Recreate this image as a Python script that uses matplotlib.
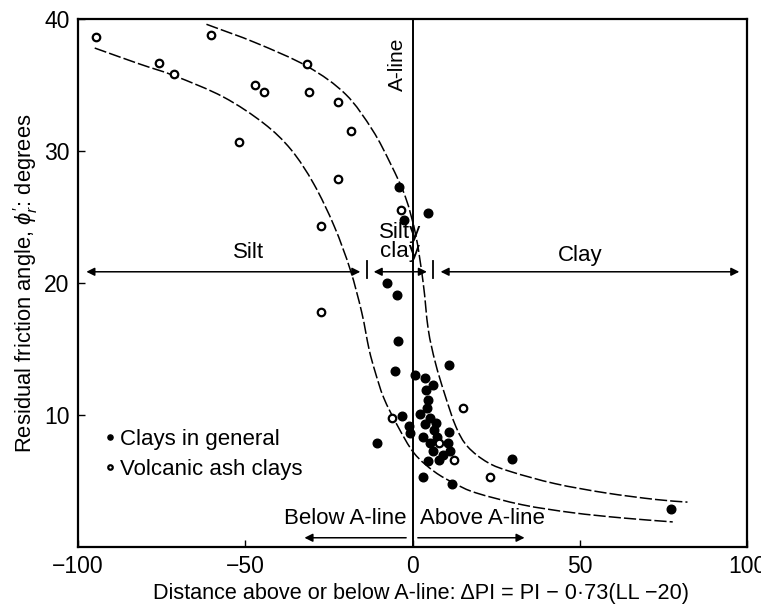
import matplotlib
matplotlib.use("Agg")
import matplotlib.pyplot as plt
from matplotlib.path import Path
from matplotlib.patches import PathPatch
import numpy as np

plt.rcParams['font.family'] = ['Liberation Sans', 'DejaVu Sans']
plt.rcParams['mathtext.fontset'] = 'custom'
plt.rcParams['mathtext.rm'] = 'Liberation Sans'
plt.rcParams['mathtext.it'] = 'Liberation Sans:italic'

# Clays in general: distance from A-line (ΔPI) and residual friction angle (deg)
clay_dpi = [-4.1, 4.5, -2.4, -7.5, -4.5, -4.2, 10.9, -5.3, 0.8, 3.7, 6.1, 3.9,
            4.5, 4.2, 2.1, -3.0, 5.3, 7.1, -1.1, 3.8, 6.4, -0.6, 10.9, 3.2,
            7.2, 5.3, 10.6, -10.5, 6.0, 11.3, 9.0, 4.6, 7.8, 3.2, 11.7, 29.7, 77.4]
clay_phi = [27.3, 25.3, 24.8, 20.0, 19.1, 15.6, 13.8, 13.3, 13.0, 12.8, 12.3, 11.9,
            11.1, 10.5, 10.1, 9.9, 9.8, 9.4, 9.2, 9.3, 8.9, 8.6, 8.7, 8.3,
            8.3, 7.9, 7.9, 7.9, 7.3, 7.3, 7.0, 6.5, 6.6, 5.3, 4.8, 6.7, 2.9]

# Volcanic ash clays
ash_dpi = [-94.5, -75.8, -71.2, -60.1, -47.2, -44.5, -51.9, -31.4, -31.0, -22.3,
           -18.5, -22.4, -27.5, -27.3, -3.5, 15.2, 23.1, 12.3, 8.0, -6.2]
ash_phi = [38.6, 36.7, 35.8, 38.8, 35.0, 34.5, 30.7, 36.6, 34.5, 33.7,
           31.5, 27.9, 24.3, 17.8, 25.5, 10.5, 5.3, 6.6, 7.9, 9.8]

# Upper and lower bounding curves of the data band
upper_dpi = [-61.6, -46.9, -31.4, -20.0, -12.0, -6.5, -2.1, 1.0, 3.2, 4.7,
             6.8, 9.6, 13.0, 16.5, 22.5, 29.5, 42.6, 57.7, 72.7, 82.2]
upper_phi = [39.6, 38.2, 36.4, 34.3, 31.6, 29.0, 26.5, 23.6, 20.0, 16.5,
             14.0, 11.6, 9.1, 7.6, 6.4, 5.7, 4.8, 4.1, 3.6, 3.4]
lower_dpi = [-95.0, -81.7, -71.2, -56.6, -44.5, -36.3, -29.5, -23.4, -18.6,
             -15.2, -13.0, -11.2, -8.6, -4.5, 0.5, 6.6, 12.7, 19.0, 32.8, 47.8,
             62.8, 77.8]
lower_phi = [37.8, 36.6, 35.7, 34.1, 32.1, 30.1, 27.5, 24.3, 21.0,
             17.8, 15.0, 13.3, 11.3, 9.2, 7.1, 5.7, 4.8, 4.1, 3.2, 2.6,
             2.2, 1.9]

# Soil classes along ΔPI
class_names = ['Silt', 'Silty\nclay', 'Clay']
class_spans = [(-97.5, -15.6), (-11.6, 4.3), (8.4, 97.7)]
class_bounds = [-13.6, 6.1]
class_level = 20.85

x_ticks = [-100, -50, 0, 50, 100]
y_ticks = [10, 20, 30, 40]


def smooth_curve(ax, xs, ys, **kw):
    """Catmull-Rom curve through the points, drawn as cubic Bezier segments."""
    sx, sy = 200.0, 40.0
    p = np.column_stack([np.asarray(xs) / sx, np.asarray(ys) / sy])
    ext = np.vstack([2 * p[0] - p[1], p, 2 * p[-1] - p[-2]])
    verts = [p[0]]
    codes = [Path.MOVETO]
    for i in range(1, len(ext) - 2):
        p0, p1, p2, p3 = ext[i - 1], ext[i], ext[i + 1], ext[i + 2]
        c1 = p1 + (p2 - p0) / 6.0
        c2 = p2 - (p3 - p1) / 6.0
        verts += [c1, c2, p2]
        codes += [Path.CURVE4] * 3
    verts = np.array(verts) * [sx, sy]
    ax.add_patch(PathPatch(Path(verts, codes), fill=False, **kw))


fig = plt.figure(figsize=(7.61, 6.06), dpi=100)
ax = fig.add_axes([78 / 761, 59 / 606, 669 / 761, 528 / 606])
ax.set_xlim(-100, 100)
ax.set_ylim(0, 40)

dash = (0, (8, 2))
smooth_curve(ax, upper_dpi, upper_phi, edgecolor='black', lw=1.1, linestyle=dash)
smooth_curve(ax, lower_dpi, lower_phi, edgecolor='black', lw=1.1, linestyle=dash)

ax.axvline(0, color='black', lw=1.4)
ax.text(-4.6, 36.6, 'A-line', rotation=90, ha='center', va='center', fontsize=15)

ax.plot(clay_dpi, clay_phi, 'o', color='black', ms=6.2, mec='black',
        label='Clays in general', zorder=5)
ax.plot(ash_dpi, ash_phi, 'o', mfc='white', mec='black', ms=5.4, mew=1.6,
        label='Volcanic ash clays', zorder=5)

arrow_kw = dict(color='black', lw=1.1, shrinkA=0, shrinkB=0, mutation_scale=12)
for lo, hi in class_spans:
    ax.annotate('', xy=(lo, class_level), xytext=(hi, class_level),
                arrowprops=dict(arrowstyle='<|-|>', **arrow_kw))
for b in class_bounds:
    ax.plot([b, b], [class_level - 0.5, class_level + 0.8], color='black', lw=1.3)

ax.text(-49.1, 22.3, class_names[0], ha='center', va='center', fontsize=16)
ax.text(-3.7, 23.1, class_names[1], ha='center', va='center', fontsize=16,
        linespacing=0.9)
ax.text(50.2, 22.1, class_names[2], ha='center', va='center', fontsize=16)

# Below / above A-line indicators
ax.annotate('', xy=(-32.3, 0.7), xytext=(-1.9, 0.7),
            arrowprops=dict(arrowstyle='-|>', **arrow_kw))
ax.annotate('', xy=(33.5, 0.7), xytext=(1.6, 0.7),
            arrowprops=dict(arrowstyle='-|>', **arrow_kw))
ax.text(-20.1, 2.15, 'Below A-line', ha='center', va='center', fontsize=16)
ax.text(20.8, 2.15, 'Above A-line', ha='center', va='center', fontsize=16)

ax.legend(loc='lower left', bbox_to_anchor=(0.03, 0.11), frameon=False,
          fontsize=16, markerscale=0.6, handlelength=0.3, handletextpad=0.3,
          labelspacing=0.42, borderaxespad=0)

ax.set_xticks(x_ticks)
ax.set_yticks(y_ticks)
ax.tick_params(direction='in', length=5, width=1, labelsize=16.5, pad=6)
for s in ax.spines.values():
    s.set_linewidth(1.6)

ax.set_xlabel(r'Distance above or below A-line: ΔPI = PI − 0·73(LL −20)',
              fontsize=15.6)
ax.xaxis.set_label_coords(0.513, -0.068)
ax.set_ylabel(r"Residual friction angle, $\mathit{\phi_r'}$: degrees", fontsize=15.8)
ax.yaxis.set_label_coords(-0.057, 0.5)

fig.savefig('out.png', dpi=100)
